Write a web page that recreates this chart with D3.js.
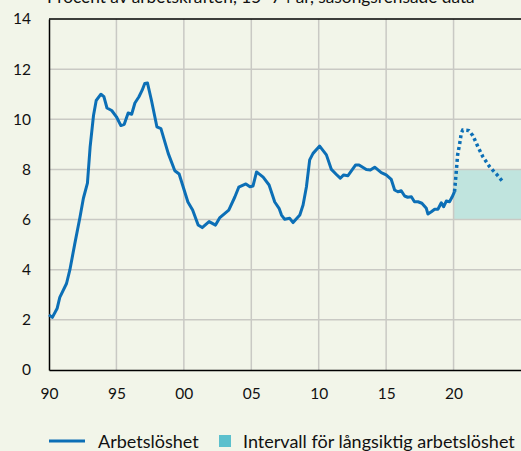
<!DOCTYPE html>
<html>
<head>
<meta charset="utf-8">
<script src="https://cdn.jsdelivr.net/npm/d3@7"></script>
<style>
  html, body { margin: 0; padding: 0; background: #f2f5e9; overflow: hidden; }
  svg { display: block; font-family: Lato, "Open Sans", sans-serif; }
</style>
</head>
<body>
<div class="chart"></div>
<script>
// utfall (kvartal, decimalår)
const years = [1990.0,1990.25,1990.6,1990.8,1991.3,1991.55,1991.9,1992.3,1992.55,1992.85,
    1993.05,1993.3,1993.5,1993.85,1994.07,1994.3,1994.65,1995.0,1995.33,1995.58,
    1995.87,1996.13,1996.37,1996.67,1996.9,1997.1,1997.3,1997.6,1998.0,1998.3,
    1998.84,1999.33,1999.65,2000.3,2000.65,2001.06,2001.36,2001.87,2002.35,2002.67,
    2003.33,2003.78,2004.07,2004.6,2004.9,2005.13,2005.39,2005.88,2006.32,2006.74,
    2007.06,2007.24,2007.48,2007.85,2008.1,2008.6,2008.84,2009.09,2009.33,2009.58,
    2010.07,2010.57,2010.94,2011.31,2011.6,2011.85,2012.17,2012.74,2012.99,2013.53,
    2013.83,2014.15,2014.64,2015.0,2015.38,2015.63,2015.87,2016.12,2016.37,2016.6,
    2016.87,2017.1,2017.36,2017.65,2017.98,2018.1,2018.35,2018.6,2018.84,2019.09,
    2019.26,2019.46,2019.7,2019.9,2020.07];
const unemployment = [2.2,2.1,2.45,2.9,3.45,4.0,5.0,6.1,6.85,7.45,
    8.9,10.15,10.75,11.0,10.9,10.45,10.35,10.1,9.75,9.8,
    10.25,10.2,10.65,10.9,11.15,11.43,11.45,10.75,9.7,9.63,
    8.64,7.95,7.82,6.7,6.38,5.78,5.68,5.92,5.78,6.08,
    6.38,6.9,7.29,7.42,7.31,7.34,7.9,7.69,7.38,6.7,
    6.45,6.18,6.01,6.05,5.88,6.18,6.58,7.31,8.38,8.64,
    8.93,8.58,8.0,7.8,7.65,7.78,7.75,8.18,8.18,8.0,
    7.98,8.09,7.87,7.78,7.6,7.18,7.11,7.15,6.94,6.89,
    6.91,6.71,6.71,6.65,6.45,6.22,6.31,6.41,6.41,6.67,
    6.51,6.74,6.71,6.91,7.11];

// prognos
const forecastYears = [2020.07,2020.2,2020.3,2020.44,2020.57,2020.68,2021.13,2021.43,
    2021.8,2022.17,2022.67,2023.28,2023.65];
const forecast = [7.11,7.91,8.58,8.98,9.44,9.57,9.55,9.35,8.91,8.51,8.11,7.75,7.51];

// intervall för långsiktig arbetslöshet
const intervalYears = [2020, 2025];
const intervalRange = [6, 8];

const xTicks = [1990, 1995, 2000, 2005, 2010, 2015, 2020];
const xTickLabels = ["90", "95", "00", "05", "10", "15", "20"];
const yTicks = [0, 2, 4, 6, 8, 10, 12, 14];

const title = "Procent av arbetskraften, 15–74 år, säsongsrensade data";
const legendLabels = ["Arbetslöshet", "Intervall för långsiktig arbetslöshet"];

const width = 521, height = 451;
const margin = {top: 19, right: 0, bottom: 81, left: 49};

const lineColor = "#0c6fb6";

const svg = d3.select(".chart")
    .append("svg")
    .attr("width", width)
    .attr("height", height)
    .attr("viewBox", [0, 0, width, height]);

const xScale = d3.scaleLinear()
    .domain([1990, 2025])
    .range([margin.left, width - margin.right]);
const yScale = d3.scaleLinear()
    .domain([0, 14])
    .range([height - margin.bottom, margin.top]);

// skuggat intervall
svg.append("rect")
    .attr("x", xScale(intervalYears[0]))
    .attr("y", yScale(intervalRange[1]))
    .attr("width", xScale(intervalYears[1]) - xScale(intervalYears[0]))
    .attr("height", yScale(intervalRange[0]) - yScale(intervalRange[1]))
    .attr("fill", "#c0e4de");

// rutnät
svg.append("g")
    .attr("stroke", "#c9c9c4")
    .attr("stroke-width", 1.5)
  .selectAll("line.v")
  .data(xTicks.slice(1))
  .join("line")
    .attr("x1", d => xScale(d))
    .attr("x2", d => xScale(d))
    .attr("y1", yScale(0))
    .attr("y2", yScale(14));
svg.append("g")
    .attr("stroke", "#c9c9c4")
    .attr("stroke-width", 1.5)
  .selectAll("line.h")
  .data(yTicks.slice(1, -1))
  .join("line")
    .attr("x1", xScale(1990))
    .attr("x2", xScale(2025))
    .attr("y1", d => yScale(d))
    .attr("y2", d => yScale(d));

// axlar
const xAxis = g => g
    .attr("transform", `translate(0,${yScale(0)})`)
    .call(d3.axisBottom(xScale).tickValues(xTicks)
        .tickFormat((d, i) => xTickLabels[i]).tickSize(0).tickPadding(18))
    .call(g => g.select(".domain").attr("stroke", "#000").attr("stroke-width", 1.5))
    .call(g => g.selectAll("text").attr("font-size", 15.5).attr("fill", "#111")
        .attr("font-family", "Lato, sans-serif"));
const yAxis = g => g
    .attr("transform", `translate(${xScale(1990)},0)`)
    .call(d3.axisLeft(yScale).tickValues(yTicks).tickSize(0).tickPadding(18))
    .call(g => g.select(".domain").attr("stroke", "#000").attr("stroke-width", 1.5))
    .call(g => g.selectAll("text").attr("font-size", 15.5).attr("fill", "#111")
        .attr("font-family", "Lato, sans-serif"));

svg.append("g").call(xAxis);
svg.append("g").call(yAxis);

// övre ram
svg.append("line")
    .attr("x1", xScale(1990))
    .attr("x2", xScale(2025))
    .attr("y1", yScale(14))
    .attr("y2", yScale(14))
    .attr("stroke", "#000")
    .attr("stroke-width", 1.5);

const line = d3.line()
    .x(d => xScale(d[0]))
    .y(d => yScale(d[1]));

svg.append("path")
    .datum(forecastYears.map((y, i) => [y, forecast[i]]))
    .attr("fill", "none")
    .attr("stroke", lineColor)
    .attr("stroke-width", 3.5)
    .attr("stroke-dasharray", "3,3")
    .attr("d", line);

svg.append("path")
    .datum(years.map((y, i) => [y, unemployment[i]]))
    .attr("fill", "none")
    .attr("stroke", lineColor)
    .attr("stroke-width", 3)
    .attr("stroke-linejoin", "round")
    .attr("d", line);

// rubrik (delvis utanför bild, som i förlagan)
svg.append("text")
    .attr("x", 47)
    .attr("y", 2.5)
    .attr("font-size", 17.3)
    .attr("fill", "#111")
    .text(title);

// legend
const legend = svg.append("g").attr("font-size", 18).attr("fill", "#111");
legend.append("line")
    .attr("x1", 49).attr("x2", 85)
    .attr("y1", 441).attr("y2", 441)
    .attr("stroke", lineColor)
    .attr("stroke-width", 3);
legend.append("text")
    .attr("x", 98).attr("y", 447.5)
    .text(legendLabels[0]);
legend.append("rect")
    .attr("x", 219).attr("y", 435)
    .attr("width", 12).attr("height", 12)
    .attr("fill", "#5cc0cd");
legend.append("text")
    .attr("x", 243).attr("y", 447.5)
    .text(legendLabels[1]);
</script>
</body>
</html>
